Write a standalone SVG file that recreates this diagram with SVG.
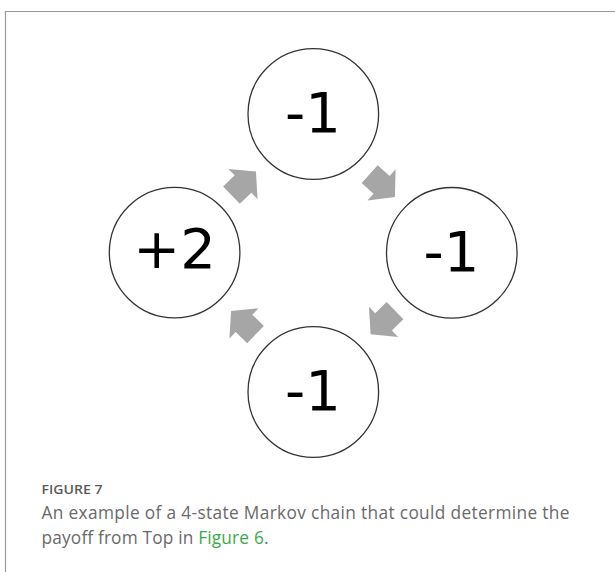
<svg xmlns="http://www.w3.org/2000/svg" width="615" height="572" viewBox="0 0 615 572">
  <style>
    .state circle { fill: #ffffff; stroke: #333333; stroke-width: 1.3; }
    .state text { font-family: "DejaVu Sans", sans-serif; font-size: 56px; fill: #000000; text-anchor: middle; }
    .flow { fill: #a6a6a6; }
    .cap-head { font-family: "Open Sans", Lato, sans-serif; font-size: 12.5px; font-weight: 600; fill: #5a5a5a; }
    .cap { font-family: "Open Sans", Lato, sans-serif; font-size: 17.3px; fill: #6a6a6a; }
    .link { fill: #3aaa48; }
  </style>
  <defs>
    <!-- block arrow pointing along +x, centred on the origin -->
    <polygon id="blockArrow" points="-17,-12 -1,-12 -1,-21 17,0 -1,21 -1,12 -17,12"/>
  </defs>

  <rect width="615" height="572" fill="#ffffff"/>
  <!-- panel frame -->
  <path d="M5.5,572 V11.5 H615" fill="none" stroke="#9a9a9a" stroke-width="1.2"/>

  <g id="state-top" class="state">
    <circle cx="313.3" cy="114" r="65.3"/>
    <text x="313" y="132">-1</text>
  </g>
  <g id="state-right" class="state">
    <circle cx="451.8" cy="252.8" r="65.3"/>
    <text x="451.5" y="271">-1</text>
  </g>
  <g id="state-bottom" class="state">
    <circle cx="313.3" cy="392" r="65.3"/>
    <text x="313" y="410">-1</text>
  </g>
  <g id="state-left" class="state">
    <circle cx="174.6" cy="252.6" r="65.3"/>
    <text x="174.5" y="268">+2</text>
  </g>

  <g id="connectors" class="flow">
    <use href="#blockArrow" transform="translate(243.7,183.3) rotate(-44)"/>
    <use href="#blockArrow" transform="translate(382.3,185.5) rotate(42)"/>
    <use href="#blockArrow" transform="translate(382.8,322.5) rotate(136)"/>
    <use href="#blockArrow" transform="translate(243.3,322.7) rotate(-136)"/>
  </g>

  <g id="caption">
    <text class="cap-head" x="41.5" y="494.3" textLength="61" lengthAdjust="spacingAndGlyphs">FIGURE 7</text>
    <text class="cap" x="41.5" y="518.8" textLength="528" lengthAdjust="spacing">An example of a 4-state Markov chain that could determine the</text>
    <text class="cap" x="41.5" y="543.7" textLength="227" lengthAdjust="spacing">payoff from Top in <tspan class="link">Figure 6</tspan>.</text>
  </g>
</svg>
